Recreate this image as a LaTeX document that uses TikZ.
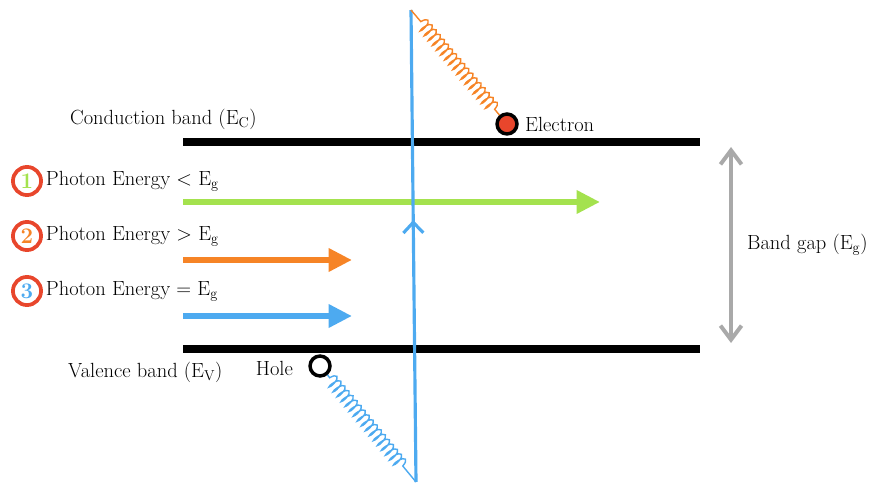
\documentclass[tikz,border=0pt]{standalone}
\usetikzlibrary{arrows.meta,decorations.pathmorphing,decorations.markings}
\definecolor{limegreen}{HTML}{A4E24E}
\definecolor{photorange}{HTML}{F68426}
\definecolor{photonblue}{HTML}{4DAAF0}
\definecolor{ringred}{HTML}{E8462C}
\definecolor{gapgray}{HTML}{A9A9A9}
\tikzset{
  band/.style={line width=6.8pt},
  photon/.style={line width=5pt, -{Triangle[length=20pt,width=19pt]}},
  spring/.style={line width=1.2pt, decorate, decoration={coil, aspect=0.3, segment length=5.4pt, amplitude=5.5pt}},
  ring/.style={circle, draw=ringred, line width=3.2pt, minimum size=24pt, inner sep=0pt, fill=white, font=\fontsize{19}{20}\selectfont\bfseries},
  particle/.style={circle, draw=black, line width=3pt, minimum size=17pt, inner sep=0pt},
  barb/.tip={Straight Barb[length=12pt,width=18pt]}
}

\begin{document}
\begin{tikzpicture}[x=0.03cm, y=-0.03cm, font=\fontsize{17.5}{20}\selectfont]
    \useasboundingbox (0,0) rectangle (871,486);
    % bands
    \coordinate (cbL) at (183,142); \coordinate (cbR) at (700,142);
    \coordinate (vbL) at (183,349); \coordinate (vbR) at (700,349);
    \draw[band] (cbL) -- (cbR);
    \draw[band] (vbL) -- (vbR);
    \node[anchor=west] (cblabel) at (66,119) {Conduction band (E\textsubscript{C})};
    \node[anchor=west] (vblabel) at (64,372) {Valence band (E\textsubscript{V})};
    % photons
    \foreach \n/\y/\b/\c/\s/\len in {1/181/202/limegreen/</600, 2/236/260/photorange/>/352, 3/291/316/photonblue/=/352} {
      \node[ring, text=\c] (ring\n) at (27,\y) {\n};
      \node[anchor=west, xshift=-1pt] (lab\n) at (ring\n.east) {Photon Energy \s{} E\textsubscript{g}};
      \coordinate (ph\n) at (183,\b);
      \coordinate (tip\n) at (\len,\b);
      \draw[photon, \c] (ph\n) -- (tip\n);
    }
    % absorbed light
    \coordinate (lightbot) at (416,482); \coordinate (lighttop) at (411,10);
    \draw[photonblue, line width=2.7pt, postaction={decorate},
      decoration={markings, mark=at position 0.555 with {\arrow{Straight Barb[length=9pt,width=17pt]}}}]
      (lightbot) -- (lighttop);
    % electron and hole
    \node[particle, fill=ringred] (electron) at (507,124) {};
    \node[anchor=west] (elabel) at (521,124) {Electron};
    \draw[spring, photorange, decoration={pre length=13pt, post length=3pt}] (lighttop) -- (electron);
    \node[particle, fill=white] (hole) at (320,366) {};
    \node[anchor=east] (hlabel) at (297,368) {Hole};
    \draw[spring, photonblue, decoration={pre length=3pt, post length=14pt}] (hole) -- (lightbot);
    % band gap
    \coordinate (gaptop) at (731,147); \coordinate (gapbot) at (731,343);
    \draw[gapgray, line width=3.4pt, barb-barb] (gaptop) -- (gapbot);
    \node[anchor=west] (gaplabel) at (743,245) {Band gap (E\textsubscript{g})};
\end{tikzpicture}
\end{document}
